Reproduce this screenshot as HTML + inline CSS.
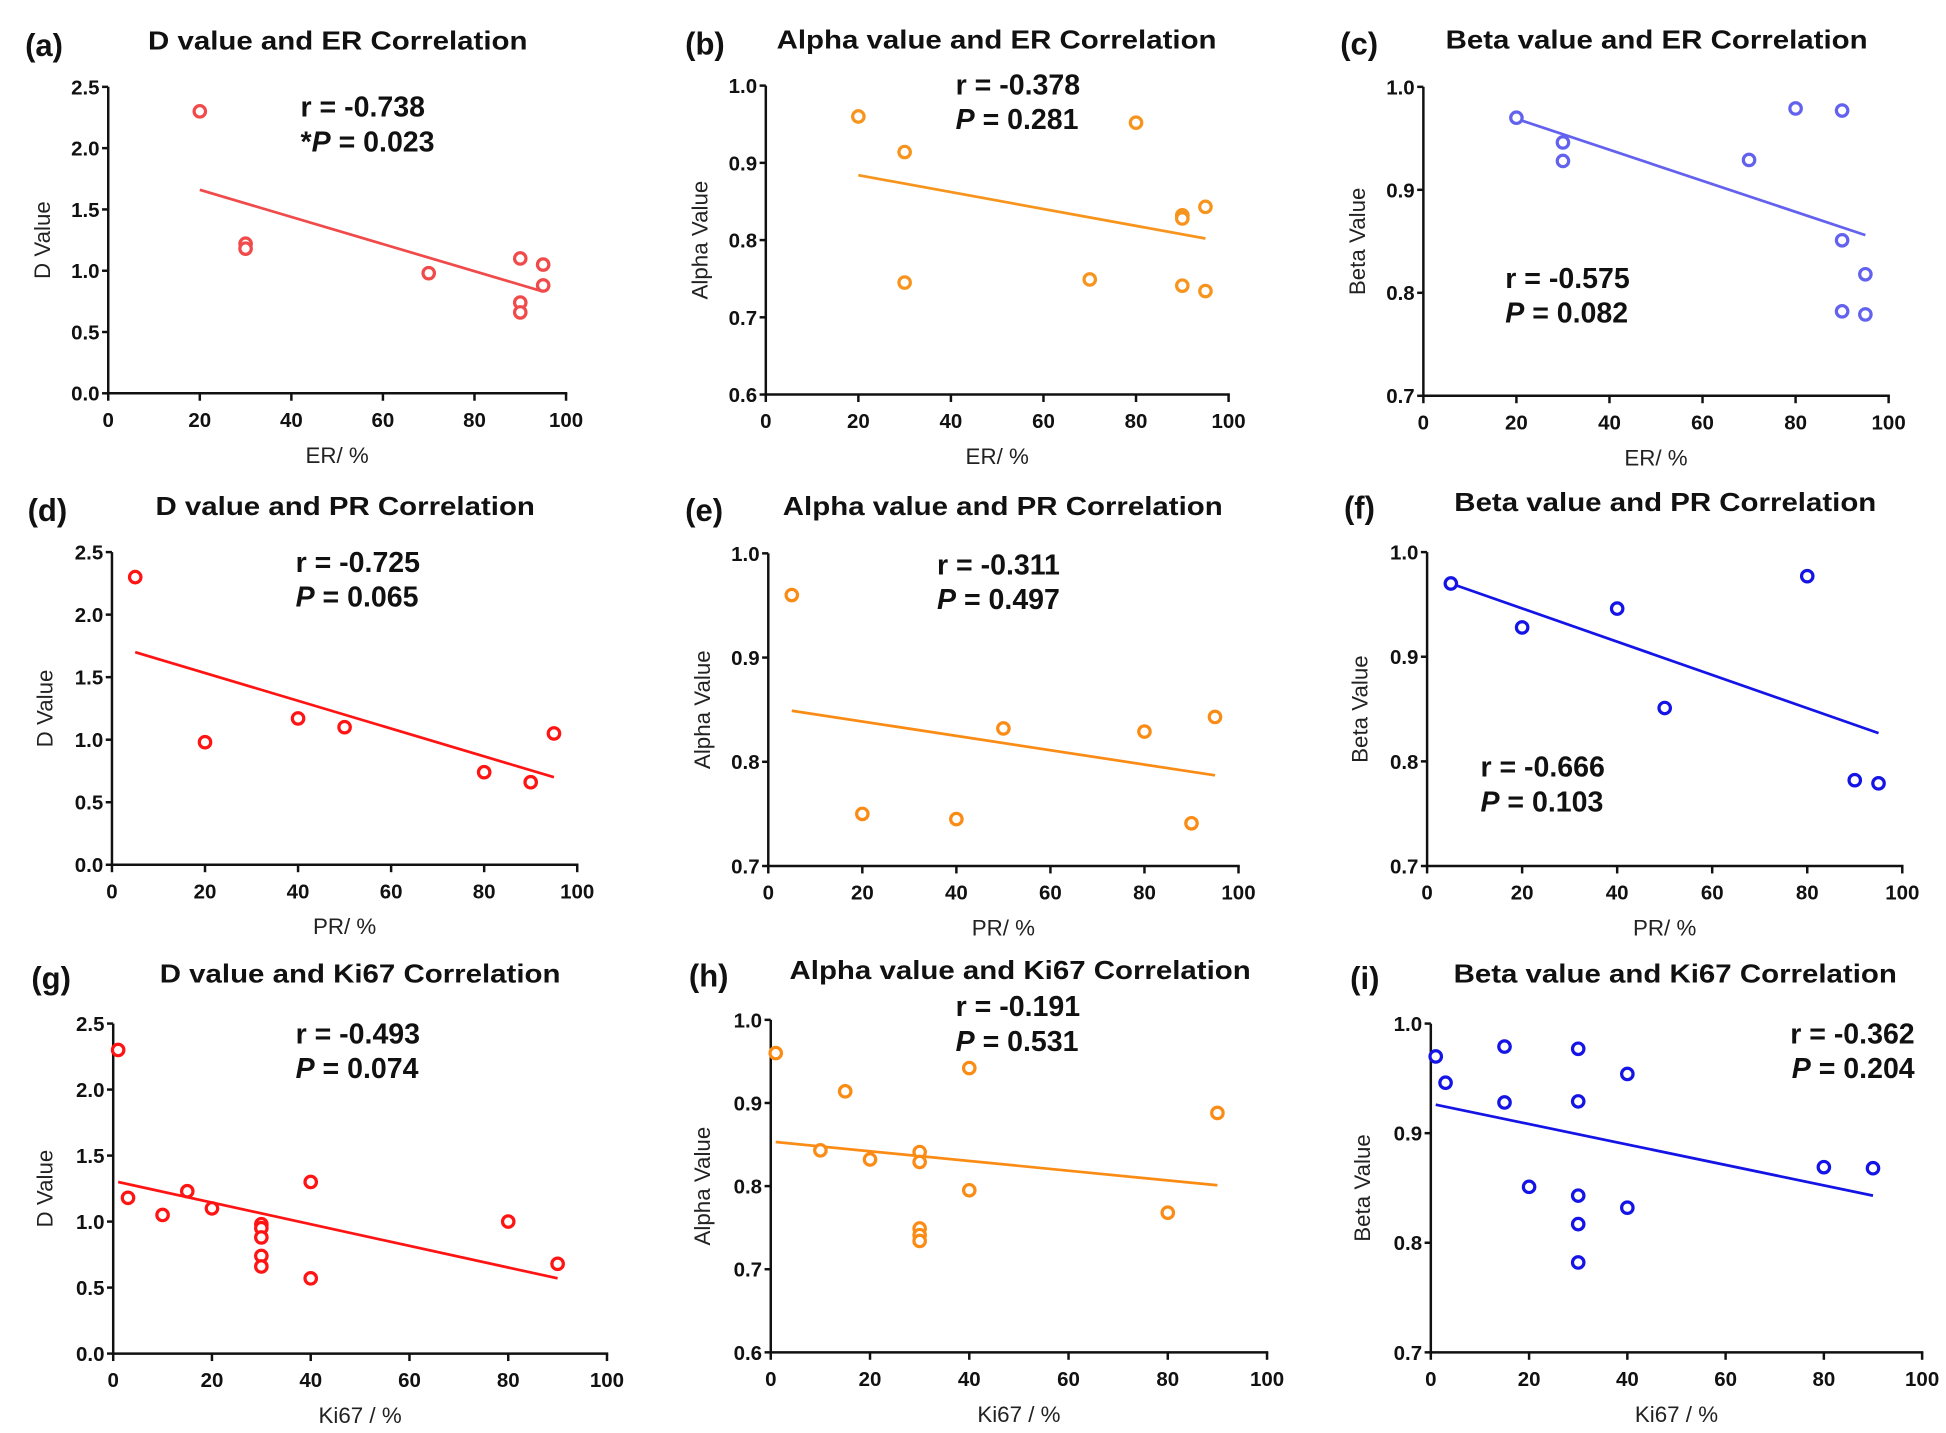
<!DOCTYPE html>
<html><head><meta charset="utf-8"><style>
html,body{margin:0;padding:0;background:#fff;}
svg{display:block;}
text{font-family:"Liberation Sans",sans-serif;}
.tick{font-weight:bold;font-size:16.5px;fill:#111;}
.title{font-weight:bold;font-size:21px;fill:#111;}
.plabel{font-size:25px;font-weight:bold;fill:#111;}
.stat{font-weight:bold;font-size:23px;fill:#111;}
.axt{font-size:18px;fill:#222;}
</style></head><body>
<svg id="fig" width="1946" height="1433" viewBox="0 0 1568 1155" xmlns="http://www.w3.org/2000/svg"></svg>
<script>
// ---- data arrays ----
const aX=[20,30,30,70,90,90,90,95,95];
const aY=[2.3,1.22,1.18,0.98,1.1,0.74,0.66,1.05,0.88];
const bX=[20,30,30,70,80,90,90,90,95,95];
const bY=[0.96,0.914,0.745,0.749,0.952,0.832,0.828,0.741,0.843,0.734];
const cX=[20,30,30,70,80,90,90,90,95,95];
const cY=[0.97,0.946,0.928,0.929,0.979,0.977,0.851,0.782,0.818,0.779];
const dX=[5,20,40,50,80,90,95];
const dY=[2.3,0.98,1.17,1.1,0.74,0.66,1.05];
const eX=[5,20,40,50,80,90,95];
const eY=[0.96,0.75,0.745,0.832,0.829,0.741,0.843];
const fX=[5,20,40,50,80,90,95];
const fY=[0.97,0.928,0.946,0.851,0.977,0.782,0.779];
const gX=[1,3,10,15,20,30,30,30,30,30,40,40,80,90];
const gY=[2.3,1.18,1.05,1.23,1.1,0.98,0.95,0.88,0.74,0.66,1.3,0.57,1.0,0.68];
const hX=[1,10,15,20,30,30,30,30,30,40,40,80,90];
const hY=[0.96,0.843,0.914,0.832,0.841,0.829,0.749,0.741,0.734,0.942,0.795,0.768,0.888];
const iX=[1,3,15,15,20,30,30,30,30,30,40,40,80,90];
const iY=[0.97,0.946,0.979,0.928,0.851,0.977,0.929,0.843,0.817,0.782,0.954,0.832,0.869,0.868];
// fit line endpoints [x0,y0,x1,y1]
const aFit=[20,1.66,95,0.83];
const bFit=[20,0.884,95,0.802];
const cFit=[20,0.969,95,0.856];
const dFit=[5,1.7,95,0.7];
const eFit=[5,0.849,95,0.787];
const fFit=[5,0.97,95,0.827];
const gFit=[1,1.3,90,0.57];
const hFit=[1,0.853,90,0.801];
const iFit=[1,0.926,90,0.843];
const xTicks=[0,20,40,60,80,100];
const dTicks=[0,0.5,1,1.5,2,2.5];
const alphaTicks=[0.6,0.7,0.8,0.9,1.0];
const alpha2Ticks=[0.7,0.8,0.9,1.0];
const betaTicks=[0.7,0.8,0.9,1.0];

const NS="http://www.w3.org/2000/svg";
const svg=document.getElementById('fig');
function mk(tag,attrs,parent){const e=document.createElementNS(NS,tag);for(const k in attrs)e.setAttribute(k,attrs[k]);(parent||svg).appendChild(e);return e;}

const panels=[
 {id:'a',X:aX,Y:aY,fit:aFit,col:'#f04a4a',ax:87,x100:456,top:70,bot:317,ymin:0,ymax:2.5,yt:dTicks,dec:1,title:'D value and ER Correlation',tx:272,ty:40,lx:20,ly:45,yl:'D Value',ylx:40,xl:'ER/ %',r:'r = -0.738',p:'P = 0.023',star:true,sx:242,sy:94,anchor:'start'},
 {id:'b',X:bX,Y:bY,fit:bFit,col:'#f7941d',ax:617,x100:990,top:69,bot:318,ymin:0.6,ymax:1.0,yt:alphaTicks,dec:1,title:'Alpha value and ER Correlation',tx:803,ty:39,lx:552,ly:44,yl:'Alpha Value',ylx:570,xl:'ER/ %',r:'r = -0.378',p:'P = 0.281',sx:770,sy:76,anchor:'start'},
 {id:'c',X:cX,Y:cY,fit:cFit,col:'#6262ee',ax:1147,x100:1522,top:70,bot:319,ymin:0.7,ymax:1.0,yt:betaTicks,dec:1,title:'Beta value and ER Correlation',tx:1335,ty:39,lx:1080,ly:44,yl:'Beta Value',ylx:1100,xl:'ER/ %',r:'r = -0.575',p:'P = 0.082',sx:1213,sy:232,anchor:'start'},
 {id:'d',X:dX,Y:dY,fit:dFit,col:'#ff1414',ax:90,x100:465,top:445,bot:697,ymin:0,ymax:2.5,yt:dTicks,dec:1,title:'D value and PR Correlation',tx:278,ty:415,lx:22,ly:420,yl:'D Value',ylx:42,xl:'PR/ %',r:'r = -0.725',p:'P = 0.065',sx:238,sy:461,anchor:'start'},
 {id:'e',X:eX,Y:eY,fit:eFit,col:'#fa8c16',ax:619,x100:998,top:446,bot:698,ymin:0.7,ymax:1.0,yt:alpha2Ticks,dec:1,title:'Alpha value and PR Correlation',tx:808,ty:415,lx:552,ly:420,yl:'Alpha Value',ylx:572,xl:'PR/ %',r:'r = -0.311',p:'P = 0.497',sx:755,sy:463,anchor:'start'},
 {id:'f',X:fX,Y:fY,fit:fFit,col:'#1414e6',ax:1150,x100:1533,top:445,bot:698,ymin:0.7,ymax:1.0,yt:betaTicks,dec:1,title:'Beta value and PR Correlation',tx:1342,ty:412,lx:1083,ly:418,yl:'Beta Value',ylx:1102,xl:'PR/ %',r:'r = -0.666',p:'P = 0.103',sx:1193,sy:626,anchor:'start'},
 {id:'g',X:gX,Y:gY,fit:gFit,col:'#ff1414',ax:91,x100:489,top:825,bot:1091,ymin:0,ymax:2.5,yt:dTicks,dec:1,title:'D value and Ki67 Correlation',tx:290,ty:792,lx:25,ly:797,yl:'D Value',ylx:42,xl:'Ki67 / %',r:'r = -0.493',p:'P = 0.074',sx:238,sy:841,anchor:'start'},
 {id:'h',X:hX,Y:hY,fit:hFit,col:'#fa8c16',ax:621,x100:1021,top:822,bot:1090,ymin:0.6,ymax:1.0,yt:alphaTicks,dec:1,title:'Alpha value and Ki67 Correlation',tx:822,ty:789,lx:555,ly:795,yl:'Alpha Value',ylx:572,xl:'Ki67 / %',r:'r = -0.191',p:'P = 0.531',sx:770,sy:819,anchor:'start'},
 {id:'i',X:iX,Y:iY,fit:iFit,col:'#1414e6',ax:1153,x100:1549,top:825,bot:1090,ymin:0.7,ymax:1.0,yt:betaTicks,dec:1,title:'Beta value and Ki67 Correlation',tx:1350,ty:792,lx:1088,ly:797,yl:'Beta Value',ylx:1104,xl:'Ki67 / %',r:'r = -0.362',p:'P = 0.204',sx:1543,sy:841,anchor:'end'}
];

panels.forEach(P=>{
  const g=mk('g',{});
  
  
  const sx=v=>P.ax+(v/100)*(P.x100-P.ax);
  const sy=v=>P.bot-(v-P.ymin)/(P.ymax-P.ymin)*(P.bot-P.top);
  const pl=mk('text',{x:P.lx,y:P.ly,class:'plabel'},g);pl.textContent='('+P.id+')';
  
  
  const t=mk('text',{x:P.tx,y:P.ty,class:'title','text-anchor':'middle'},g);t.textContent=P.title;
  
  
  const tl=t.getComputedTextLength();
  if(tl>0){t.setAttribute('textLength',tl*1.13);t.setAttribute('lengthAdjust','spacingAndGlyphs');}
  const ya=mk('line',{x1:P.ax,y1:P.top,x2:P.ax,y2:P.bot+1,stroke:'#111','stroke-width':2},g);
  
  
  const xa=mk('line',{x1:P.ax-1,y1:P.bot,x2:P.x100+1,y2:P.bot,stroke:'#111','stroke-width':2},g);
  
  
  P.yt.forEach(v=>{
    mk('line',{x1:P.ax-5,y1:sy(v),x2:P.ax,y2:sy(v),stroke:'#111','stroke-width':2},g);
    const tt=mk('text',{x:P.ax-7,y:sy(v)+6,class:'tick','text-anchor':'end'},g);tt.textContent=v.toFixed(P.dec);
    
    
  });
  xTicks.forEach(v=>{
    mk('line',{x1:sx(v),y1:P.bot,x2:sx(v),y2:P.bot+6,stroke:'#111','stroke-width':2},g);
    const tt=mk('text',{x:sx(v),y:P.bot+27,class:'tick','text-anchor':'middle'},g);tt.textContent=v;
    
    
  });
  const xl=mk('text',{x:(P.ax+P.x100)/2,y:P.bot+56,class:'axt','text-anchor':'middle'},g);xl.textContent=P.xl;
  
  
  const yc=(P.top+P.bot)/2;
  const yl=mk('text',{x:P.ylx,y:yc,class:'axt','text-anchor':'middle',transform:'rotate(-90 '+P.ylx+' '+yc+')'},g);yl.textContent=P.yl;
  
  
  const fl=mk('line',{x1:sx(P.fit[0]),y1:sy(P.fit[1]),x2:sx(P.fit[2]),y2:sy(P.fit[3]),stroke:P.col,'stroke-width':2.2},g);
  
  
  P.X.forEach((x,k)=>{
    const c=mk('circle',{cx:sx(x),cy:sy(P.Y[k]),r:4.6,fill:'#fff',stroke:P.col,'stroke-width':2.6},g);
    
    
  });
  const r=mk('text',{x:P.sx,y:P.sy,class:'stat','text-anchor':P.anchor},g);r.textContent=P.r;
  
  
  const pt=mk('text',{x:P.sx,y:P.sy+28,class:'stat','text-anchor':P.anchor},g);
  
  
  if(P.star){const s=mk('tspan',{},pt);s.textContent='*';}
  const it=mk('tspan',{'font-style':'italic'},pt);it.textContent='P';
  const rest=mk('tspan',{},pt);rest.textContent=P.p.slice(1);
});
</script>
</body></html>
